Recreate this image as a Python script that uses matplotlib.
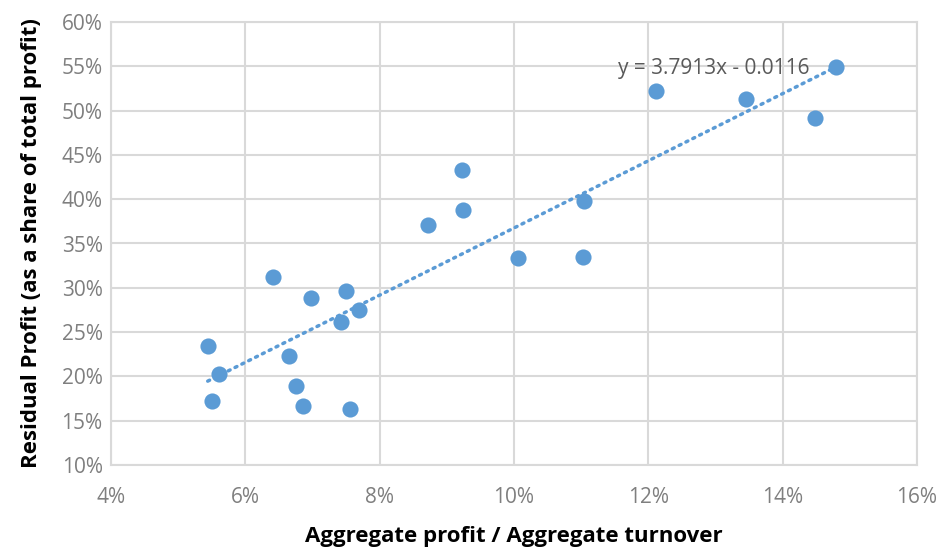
import numpy as np
import matplotlib.pyplot as plt
from matplotlib.ticker import FuncFormatter

plt.rcParams['font.family'] = ['Open Sans', 'DejaVu Sans']

# profit margin (%) and residual profit share (%)
margin = [5.44, 5.50, 5.61, 6.41, 6.65, 6.76, 6.86, 6.98, 7.43, 7.50, 7.56,
          7.69, 8.72, 9.23, 9.24, 10.06, 11.04, 11.03, 12.12, 13.46, 14.48, 14.80]
residual = [23.4, 17.2, 20.3, 31.2, 22.3, 18.9, 16.7, 28.8, 26.1, 29.6, 16.3,
            27.5, 37.1, 43.3, 38.8, 33.4, 39.8, 33.5, 52.2, 51.3, 49.2, 54.9]

slope = 3.7913
intercept = -0.0116
eq_label = "y = 3.7913x - 0.0116"

x = np.array(margin) / 100
y = np.array(residual) / 100

blue = '#5B9BD5'
grey = '#D9D9D9'

fig = plt.figure(figsize=(9.4, 5.47), dpi=100)
ax = fig.add_axes([111/940, 1 - 465/547, (917-111)/940, (465-22)/547])

ax.scatter(x, y, s=135, color=blue, zorder=3, linewidths=0)

tx = np.array([x.min(), x.max()])
ax.plot(tx, slope*tx + intercept, color=blue, lw=2.5, ls=(0, (0.6, 1.6)),
        dash_capstyle='round', zorder=2)
ax.text(0.1298, 0.548, eq_label, ha='center', va='center', fontsize=15,
        color='#595959', zorder=4)

ax.set_xlim(0.04, 0.16)
ax.set_ylim(0.10, 0.60)
ax.set_xticks(np.arange(0.04, 0.161, 0.02))
ax.set_yticks(np.arange(0.10, 0.601, 0.05))
ax.xaxis.set_major_formatter(FuncFormatter(lambda v, p: f"{v*100:.0f}%"))
ax.yaxis.set_major_formatter(FuncFormatter(lambda v, p: f"{v*100:.0f}%"))
ax.tick_params(length=0, labelsize=15, labelcolor='#7F7F7F', pad=6)
ax.tick_params(axis='x', pad=16)
ax.grid(True, color=grey, lw=1.5, zorder=0)
ax.set_axisbelow(True)
for s in ax.spines.values():
    s.set_color(grey)
    s.set_linewidth(1.5)

ax.set_xlabel('Aggregate profit / Aggregate turnover', fontsize=16,
              fontweight='bold', labelpad=13)
ax.set_ylabel('Residual Profit (as a share of total profit)', fontsize=16,
              fontweight='bold', labelpad=14)

fig.savefig('out.png', dpi=100)
